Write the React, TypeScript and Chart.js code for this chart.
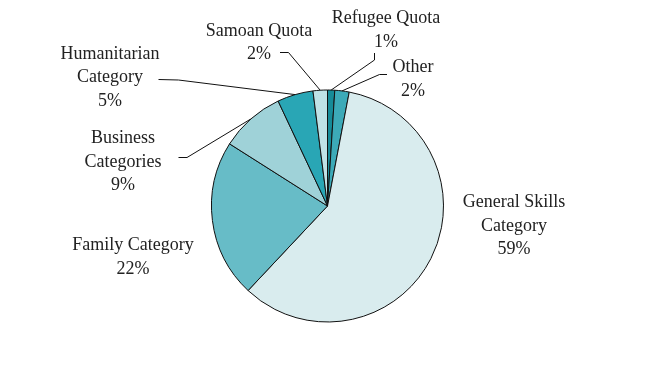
import React, { useEffect, useRef } from "react";
import { Chart, registerables } from "chart.js";

Chart.register(...registerables);

// ---- data ----
const categories = [
  "Refugee Quota",
  "Other",
  "General Skills\nCategory",
  "Family Category",
  "Business\nCategories",
  "Humanitarian\nCategory",
  "Samoan Quota",
];
const values = [1, 2, 59, 22, 9, 5, 2];
const colors = ["#168b98", "#3caab8", "#d9ecee", "#67bcc7", "#9fd2d8", "#29a6b5", "#bfe2e6"];

// ---- label layout (offsets relative to the pie centre) ----
const labelLayout: { dx: number; dy: number; leader?: number[][] }[] = [
  { dx: 58.5, dy: -183, leader: [[47, -153], [47, -146]] },
  { dx: 85.5, dy: -134, leader: [[59.5, -131.5], [52, -131.5]] },
  { dx: 186.5, dy: 1 },
  { dx: -194.5, dy: 44 },
  { dx: -204.5, dy: -63, leader: [[-149, -48.5], [-140.5, -48.5]] },
  { dx: -217.5, dy: -147.5, leader: [[-169, -126.5], [-149, -126]] },
  { dx: -68.5, dy: -170.5, leader: [[-47.5, -153.5], [-39, -153.5]] },
];

const LINE_HEIGHT = 23.7;
const FONT = "18px 'Liberation Serif', 'Times New Roman', serif";

const labelPlugin = {
  id: "pieLabels",
  afterDatasetsDraw(chart: any) {
    const meta = chart.getDatasetMeta(0);
    const ctx = chart.ctx as CanvasRenderingContext2D;
    ctx.save();
    meta.data.forEach((arc: any, i: number) => {
      const { x, y, startAngle, endAngle, outerRadius } = arc.getProps(
        ["x", "y", "startAngle", "endAngle", "outerRadius"],
        true
      );
      const lay = labelLayout[i];
      const mid = (startAngle + endAngle) / 2;
      const ax = x + Math.cos(mid) * outerRadius;
      const ay = y + Math.sin(mid) * outerRadius;
      if (lay.leader) {
        ctx.beginPath();
        ctx.strokeStyle = "#111";
        ctx.lineWidth = 1;
        ctx.moveTo(x + lay.leader[0][0], y + lay.leader[0][1]);
        ctx.lineTo(x + lay.leader[1][0], y + lay.leader[1][1]);
        ctx.lineTo(ax, ay);
        ctx.stroke();
      }
      const lines = [...String(chart.data.labels[i]).split("\n"), `${chart.data.datasets[0].data[i]}%`];
      ctx.fillStyle = "#222";
      ctx.font = FONT;
      ctx.textAlign = "center";
      ctx.textBaseline = "alphabetic";
      lines.forEach((t, k) => {
        ctx.fillText(t, x + lay.dx, y + lay.dy + k * LINE_HEIGHT);
      });
    });
    ctx.restore();
  },
};

export default function App() {
  const ref = useRef<HTMLCanvasElement | null>(null);
  useEffect(() => {
    if (!ref.current) return;
    const chart = new Chart(ref.current, {
      type: "pie",
      data: {
        labels: categories,
        datasets: [
          {
            data: values,
            backgroundColor: colors,
            borderColor: "#111",
            borderWidth: 1,
            radius: 116,
          },
        ],
      },
      options: {
        responsive: false,
        animation: false,
        layout: { padding: { left: 211.5, right: 202.5, top: 90, bottom: 55 } },
        plugins: {
          legend: { display: false },
          tooltip: { enabled: false },
        },
      },
      plugins: [labelPlugin],
    });
    return () => chart.destroy();
  }, []);
  return (
    <div style={{ position: "fixed", left: 0, top: 0, width: 646, height: 377, background: "#fff" }}>
      <canvas ref={ref} width={646} height={377} style={{ width: 646, height: 377, display: "block" }} />
    </div>
  );
}
